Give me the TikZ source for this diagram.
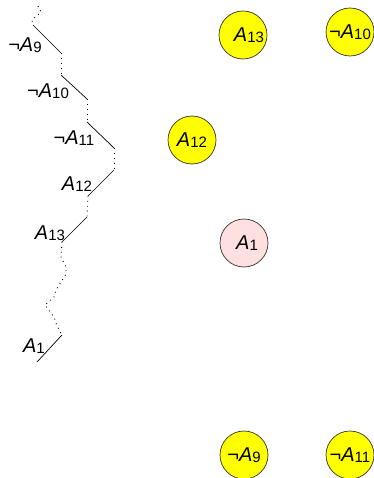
\documentclass[tikz,border=0pt]{standalone}
\usepackage{fontspec}
\setmainfont{Liberation Sans}
\definecolor{nodeyellow}{HTML}{FFFF00}
\definecolor{nodepink}{HTML}{FFE0E0}
\definecolor{edgegray}{HTML}{333333}
\newcommand{\lbl}[2]{{\fontsize{20}{20}\selectfont\itshape A}\raisebox{-0.15em}{\fontsize{15}{15}\selectfont #2}}
\newcommand{\nlbl}[2]{{\fontsize{20}{20}\selectfont ¬\itshape A}\raisebox{-0.15em}{\fontsize{15}{15}\selectfont #2}}
\begin{document}
\begin{tikzpicture}[x=1pt,y=-1pt,
  solidseg/.style={draw=black,line width=0.7pt},
  dotseg/.style={draw=black,line width=0.9pt,dash pattern=on 0.9pt off 4pt},
  lit/.style={circle,draw=edgegray,line width=0.7pt,minimum size=48pt,inner sep=0pt},
  yel/.style={lit,fill=nodeyellow},
  pnk/.style={lit,fill=nodepink},
  plabel/.style={inner sep=0pt}]
\useasboundingbox (0,0) rectangle (373,478);
% path coordinates
\coordinate (p0) at (38,6);
\coordinate (p1) at (41,12);
\coordinate (p2) at (32,20);
\coordinate (s1a) at (33,25);
\coordinate (s1b) at (61,53);
\coordinate (s2a) at (61,75);
\coordinate (s2b) at (87,99);
\coordinate (s3a) at (87,122);
\coordinate (s3b) at (114,148);
\coordinate (s4a) at (114,170);
\coordinate (s4b) at (88,196);
\coordinate (s5a) at (87,217);
\coordinate (s5b) at (62,242);
\coordinate (d1) at (61,257);
\coordinate (d2) at (66,267);
\coordinate (d3) at (66,274);
\coordinate (d4) at (56,290);
\coordinate (d5) at (54,297);
\coordinate (d6) at (45,305);
\coordinate (d7) at (54,317);
\coordinate (d8) at (57,326);
\coordinate (s6a) at (62,335);
\coordinate (s6b) at (37,362);
% dotted parts
\draw[dotseg] (p0) -- (p1) -- (p2) -- (s1a);
\draw[dotseg] (s1b) -- (s2a);
\draw[dotseg] (s2b) -- (s3a);
\draw[dotseg] (s3b) -- (s4a);
\draw[dotseg] (s4b) -- (s5a);
\draw[dotseg] (s5b) -- (d1) -- (d2) -- (d3) -- (d4) -- (d5) -- (d6) -- (d7) -- (d8) -- (s6a);
% solid parts
\draw[solidseg] (s1a) -- (s1b);
\draw[solidseg] (s2a) -- (s2b);
\draw[solidseg] (s3a) -- (s3b);
\draw[solidseg] (s4a) -- (s4b);
\draw[solidseg] (s5a) -- (s5b);
\draw[solidseg] (s6a) -- (s6b);
% path labels
\node[plabel] (l9) at (25,45) {\nlbl{A}{9}};
\node[plabel] (l10) at (48,91) {\nlbl{A}{10}};
\node[plabel] (l11) at (74,138) {\nlbl{A}{11}};
\node[plabel] (l12) at (77,184) {\lbl{A}{12}};
\node[plabel] (l13) at (50,233) {\lbl{A}{13}};
\node[plabel] (l1) at (34,346) {\lbl{A}{1}};
% circles
\node[yel] (c13) at (243,35) {};
\node[anchor=center,inner sep=0pt] at ([xshift=6pt]c13.center) {\lbl{A}{13}};
\node[yel] (c10) at (350,32) {\nlbl{A}{10}};
\node[yel] (c12) at (192,140) {\lbl{A}{12}};
\node[pnk] (c1) at (244,243) {};
\node[anchor=center,inner sep=0pt] at ([xshift=3pt]c1.center) {\lbl{A}{1}};
\node[yel] (c9) at (244,455) {\nlbl{A}{9}};
\node[yel] (c11) at (350,455) {\nlbl{A}{11}};
\end{tikzpicture}
\end{document}
